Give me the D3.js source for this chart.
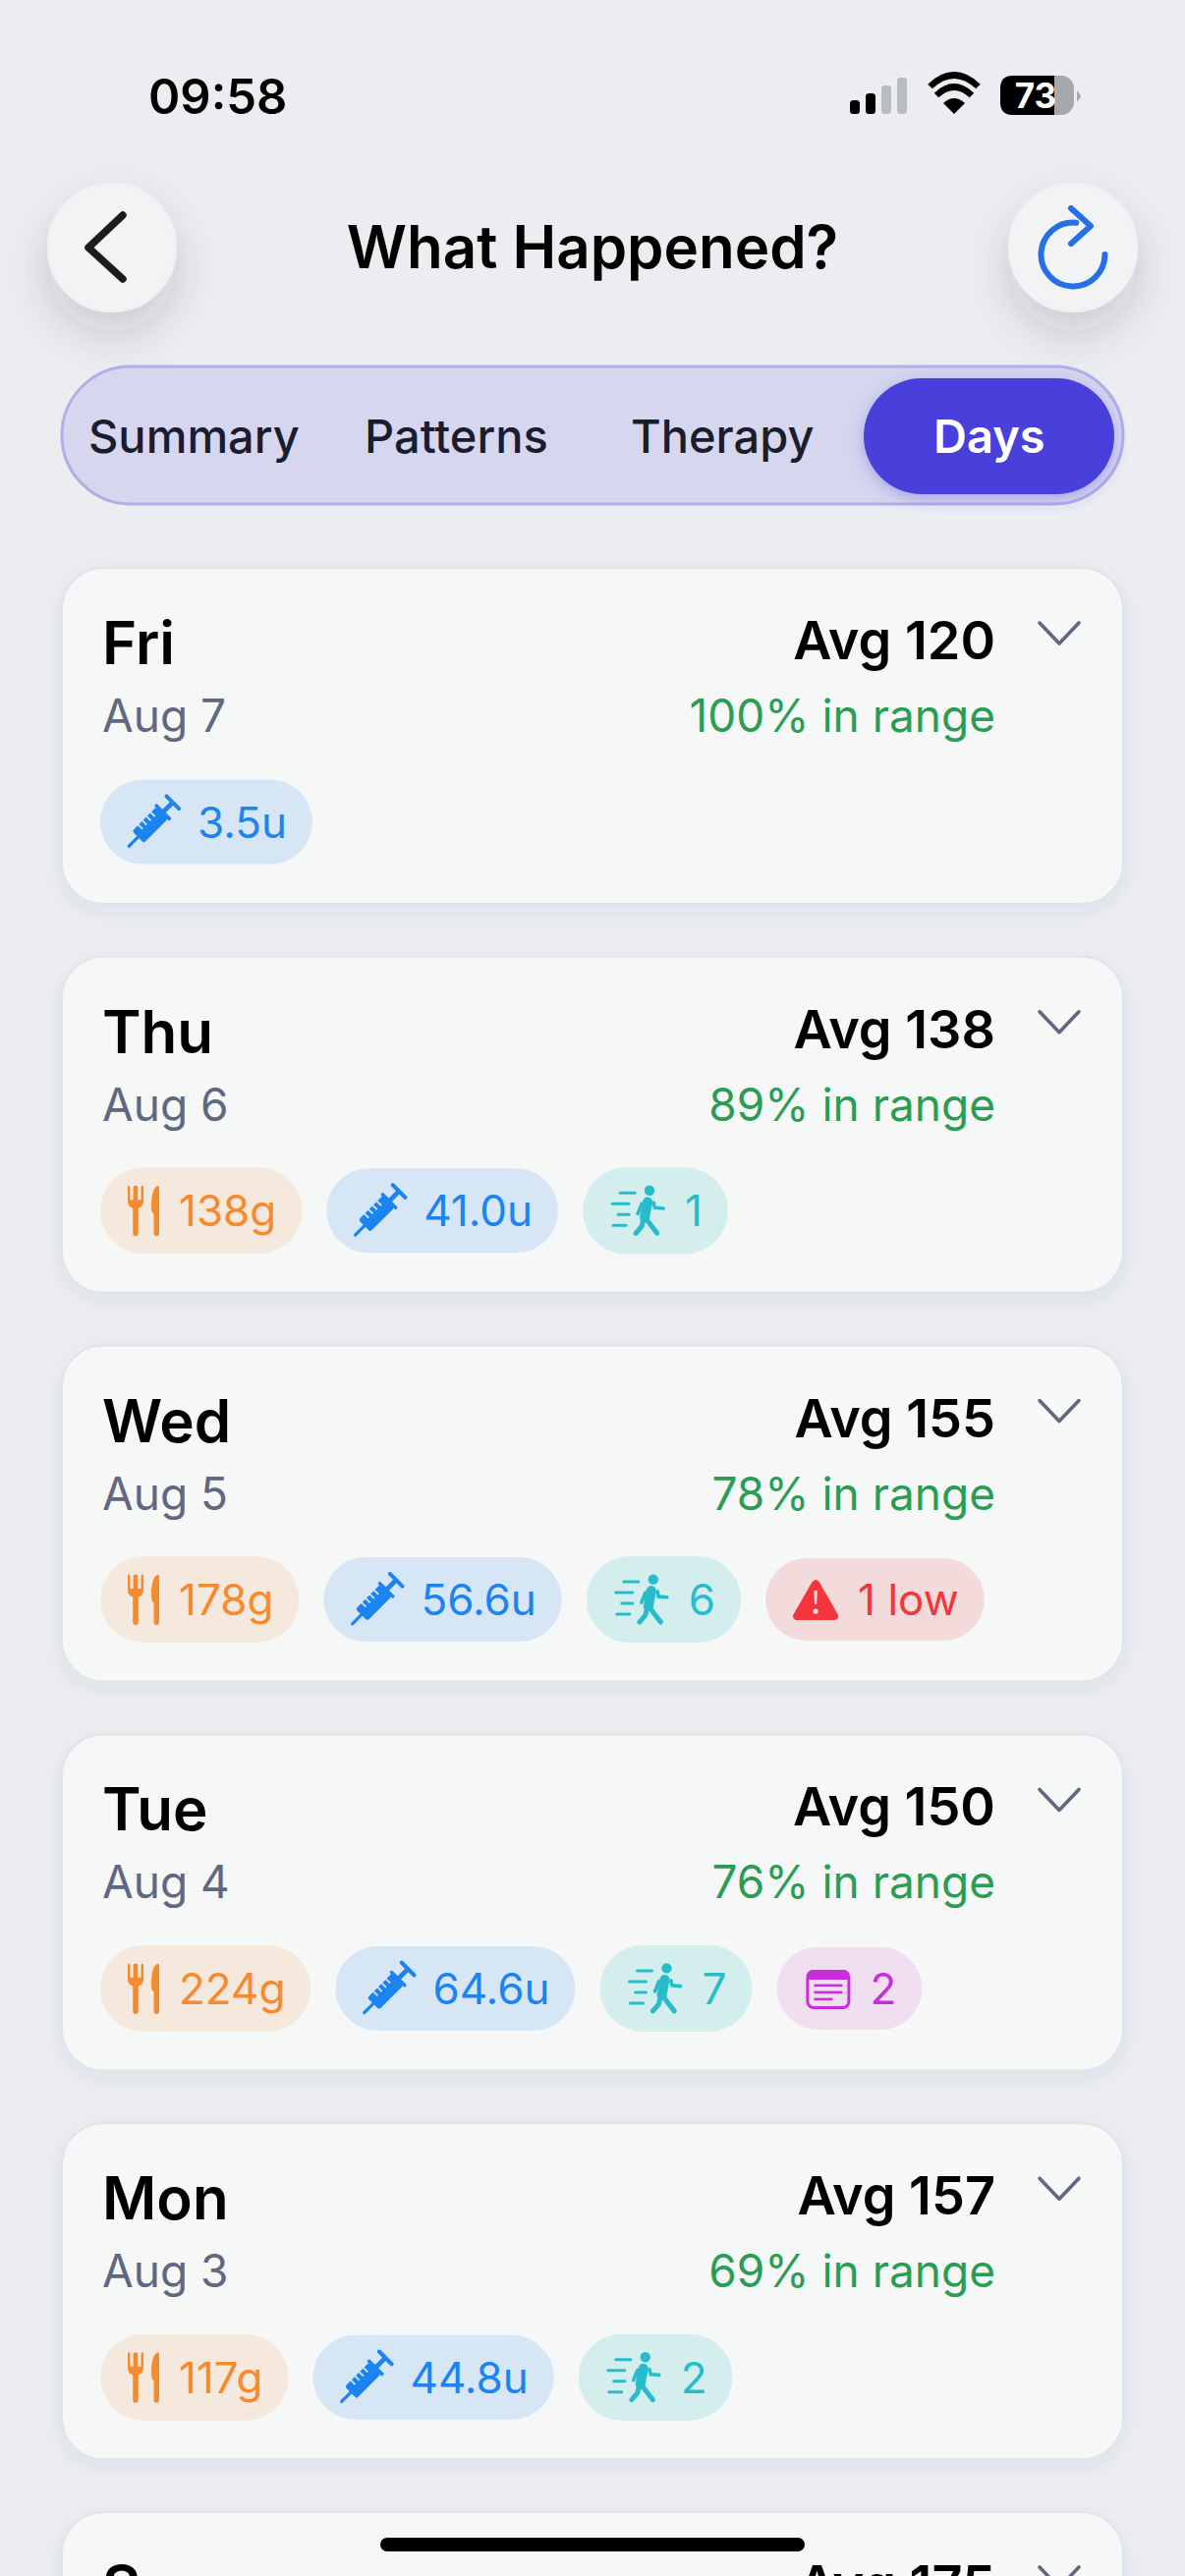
<!DOCTYPE html>
<html><head><meta charset="utf-8">
<script src="https://cdn.jsdelivr.net/npm/d3@7/dist/d3.min.js"></script>
<style>html,body{margin:0;padding:0;background:#ebedf1;overflow:hidden}svg{display:block}text{font-family:Inter,"Noto Sans",sans-serif}</style>
</head><body><svg id="c" width="1206" height="2622" viewBox="0 0 1206 2622"></svg>
<script>
const days=["Fri","Thu","Wed","Tue","Mon","Sun"];
const dates=["Aug 7","Aug 6","Aug 5","Aug 4","Aug 3",""];
const avgs=[120,138,155,150,157,175];
const inRange=[100,89,78,76,69,null];
const carbs=[null,138,178,224,117,null];
const insulin=[3.5,41.0,56.6,64.6,44.8,null];
const activity=[null,1,6,7,2,null];
const lows=[null,null,1,null,null,null];
const notes=[null,null,null,2,null,null];
const tabs=["Summary","Patterns","Therapy","Days"];
const tabStarts=[90,371,642,950];

const svg=d3.select("#c");
const F={bg:"#ebedf1",card:"#f6f7f7",cardStroke:"#e1e3eb",ink:"#000",muted:"#5f6880",green:"#2a9d55"};
const defs=svg.append("defs");
function shadow(id,dy,sd,col,op){const f=defs.append("filter").attr("id",id).attr("x","-60%").attr("y","-60%").attr("width","220%").attr("height","240%");
 f.append("feDropShadow").attr("dx",0).attr("dy",dy).attr("stdDeviation",sd).attr("flood-color",col).attr("flood-opacity",op);}
shadow("btn",22,22,"#20242c",0.17);
shadow("cardS",6,9,"#2a3560",0.07);
shadow("pill",4,8,"#4a41dc",0.35);

svg.append("rect").attr("width",1206).attr("height",2622).attr("fill",F.bg);

/* status bar */
const st=svg.append("g");
st.append("text").text("09:58").attr("x",151).attr("y",116).attr("font-size",49).attr("font-weight",600).attr("fill","#000");
[[865,102,"#000"],[881,95,"#000"],[897,87,"#b9bcc0"],[913,79,"#b9bcc0"]].forEach(b=>st.append("rect").attr("x",b[0]).attr("y",b[1]).attr("width",10).attr("height",116-b[1]).attr("rx",3.5).attr("fill",b[2]));
st.append("path").attr("d","M971 116 L960 105 Q971 95 982 105 Z").attr("fill","#000");
st.append("path").attr("d","M953 97 Q971 80 989 97").attr("fill","none").attr("stroke","#000").attr("stroke-width",6.5);
st.append("path").attr("d","M946.5 88 Q971 65 995.5 88").attr("fill","none").attr("stroke","#000").attr("stroke-width",6.5);
st.append("rect").attr("x",1018).attr("y",77).attr("width",75).attr("height",40).attr("rx",13).attr("fill","#a6a8aa");
st.append("path").attr("d","M1031 77 H1073 V117 H1031 Q1018 117 1018 104 V90 Q1018 77 1031 77 Z").attr("fill","#000");
st.append("path").attr("d","M1096 92 Q1100 97 1100 98 Q1100 99 1096 104 Z").attr("fill","#a6a8aa");
st.append("text").text("73").attr("x",1054).attr("y",110).attr("text-anchor","middle").attr("font-size",35).attr("font-weight",700).attr("fill","#fff");

/* header */
[[114],[1092]].forEach(d=>svg.append("circle").attr("cx",d[0]).attr("cy",252).attr("r",65).attr("fill","#f2f3f5").attr("stroke","#f0f1f2").attr("stroke-width",2).attr("filter","url(#btn)"));
svg.append("path").attr("d","M125 219 L90 252 L125 284").attr("fill","none").attr("stroke","#1c1c1e").attr("stroke-width",7.5).attr("stroke-linecap","round").attr("stroke-linejoin","round");
const ref=svg.append("g").attr("fill","none").attr("stroke","#2570e6").attr("stroke-width",6).attr("stroke-linecap","round").attr("stroke-linejoin","round");
ref.append("path").attr("d",d3.arc()({innerRadius:32.5,outerRadius:32.5,startAngle:Math.PI/2,endAngle:2*Math.PI+0.1})).attr("transform","translate(1092,259)");
ref.append("path").attr("d","M1090 212 L1110 230 L1090 248");
svg.append("text").text("What Happened?").attr("x",603).attr("y",273).attr("text-anchor","middle").attr("font-size",60).attr("font-weight",600).attr("fill","#000");

/* segmented control */
svg.append("rect").attr("x",63).attr("y",373).attr("width",1080).attr("height",140).attr("rx",70).attr("fill","#d6d7ee").attr("stroke","#b0aee8").attr("stroke-width",3);
svg.append("rect").attr("x",879).attr("y",385).attr("width",255).attr("height",118).attr("rx",59).attr("fill","#4a41dc").attr("filter","url(#pill)");
svg.selectAll("text.tab").data(tabs).join("text").attr("class","tab").text(d=>d)
 .attr("x",(d,i)=>tabStarts[i]).attr("y",461).attr("font-size",47).attr("font-weight",(d,i)=>i==3?600:500).attr("fill",(d,i)=>i==3?"#fff":"#1a1d2e");

/* icons: drawn around local origin (left edge, vertical centre) */
const icons={
 food:(g,c)=>{g.append("path").attr("fill",c).attr("d","M0 -24 Q0 -25.5 1.2 -25.5 Q2.4 -25.5 2.4 -24 L2.5 -11 H5.6 L5.7 -24 Q5.7 -25.5 8 -25.5 Q10.3 -25.5 10.3 -24 L10.4 -11 H13.5 L13.6 -24 Q13.6 -25.5 14.8 -25.5 Q16 -25.5 16 -24 L16 -10 Q16 -4 10.8 -2.5 L10.8 22.5 Q10.8 26 8 26 Q5.2 26 5.2 22.5 L5.2 -2.5 Q0 -4 0 -10 Z");
  g.append("path").attr("fill",c).attr("d","M32 -23 Q32 -26 29.5 -25 Q24 -21 24 -5 Q24 3 26.5 3 L26.5 23 Q26.5 26 29.2 26 Q32 26 32 23 Z");},
 ins:(g,c,bg)=>{const s=g.append("g").attr("transform","translate(25,0) rotate(-45)");
  s.append("line").attr("x1",-35).attr("x2",-20).attr("stroke",c).attr("stroke-width",3.2).attr("stroke-linecap","round");
  s.append("rect").attr("x",-22).attr("y",-8.5).attr("width",35).attr("height",17).attr("rx",2.5).attr("fill",c);
  s.append("rect").attr("x",12).attr("y",-11).attr("width",3.6).attr("height",22).attr("rx",1.6).attr("fill",c);
  s.append("rect").attr("x",14).attr("y",-2.4).attr("width",14).attr("height",4.8).attr("fill",c);
  s.append("rect").attr("x",26).attr("y",-11).attr("width",4).attr("height",22).attr("rx",2).attr("fill",c);
  [-13,-7,-1,5].forEach(x=>s.append("line").attr("x1",x).attr("x2",x).attr("y1",-8.8).attr("y2",-2.5).attr("stroke",bg).attr("stroke-width",1.8));},
 act:(g,c)=>{[[8,23,-18],[0,17,-7],[6,17,4],[1,14,15]].forEach(l=>g.append("line").attr("x1",l[0]).attr("x2",l[1]).attr("y1",l[2]).attr("y2",l[2]).attr("stroke",c).attr("stroke-width",3).attr("stroke-linecap","round"));
  g.append("circle").attr("cx",38).attr("cy",-20.5).attr("r",5.2).attr("fill",c);
  const P=(d,w)=>g.append("path").attr("d",d).attr("fill","none").attr("stroke",c).attr("stroke-width",w).attr("stroke-linecap","round").attr("stroke-linejoin","round");
  P("M36 -9 L33 7",10);P("M26 3 L30 -7",3.6);P("M42.3 -8 L43.3 -3 L52 -2.3",3.6);P("M31.7 9 L30 16 L24 23",5);P("M34.3 8 L39 14.3 L45.7 23",5);},
 warn:(g,c,bg)=>{g.append("path").attr("d","M23 -16 L4 17 L42 17 Z").attr("fill",c).attr("stroke",c).attr("stroke-width",8).attr("stroke-linejoin","round");
  g.append("path").attr("d","M21.2 -9 H24.8 L24 5 H22 Z").attr("fill",bg);g.append("circle").attr("cx",23).attr("cy",12).attr("r",2.6).attr("fill",bg);},
 note:(g,c)=>{g.append("rect").attr("x",1.5).attr("y",-17.5).attr("width",42).attr("height",37).attr("rx",6).attr("fill","none").attr("stroke",c).attr("stroke-width",3);
  g.append("path").attr("d","M1.5 -9 V-13 Q1.5 -19 7.5 -19 H37.5 Q43.5 -19 43.5 -13 V-9 Z").attr("fill",c);
  [[8,37,-3],[8,37,4],[8,27,11]].forEach(l=>g.append("line").attr("x1",l[0]).attr("x2",l[1]).attr("y1",l[2]).attr("y2",l[2]).attr("stroke",c).attr("stroke-width",2.6));}
};
const kinds={
 food:{c:"#f68a2e",bg:"#f5e9de",w:32,h:88,pad:28,fmt:v=>v+"g"},
 ins:{c:"#1c84f0",bg:"#d6e6f5",w:50,h:86,pad:29,fmt:v=>v.toFixed(1)+"u"},
 act:{c:"#26bccb",bg:"#d4eeee",w:54,h:88,pad:30,fmt:v=>""+v},
 warn:{c:"#f3363d",bg:"#f3dadb",w:46,h:84,pad:28,fmt:v=>v+" low"},
 note:{c:"#c92edc",bg:"#efdff1",w:45,h:84,pad:30,fmt:v=>""+v}
};

/* cards */
const y=d3.scalePoint().domain(days).range([578,2557]);
const cards=svg.selectAll("g.card").data(days).join("g").attr("class","card").attr("transform",d=>`translate(63,${y(d)})`);
cards.each(function(d,i){
 const g=d3.select(this);
 g.append("rect").attr("width",1080).attr("height",342).attr("rx",42).attr("fill",F.card).attr("stroke",F.cardStroke).attr("stroke-width",2).attr("filter","url(#cardS)");
 g.append("text").text(d).attr("x",41).attr("y",98).attr("font-size",60).attr("font-weight",600).attr("fill",F.ink);
 if(dates[i]) g.append("text").text(dates[i]).attr("x",41).attr("y",167).attr("font-size",46).attr("fill",F.muted);
 g.append("text").text("Avg "+avgs[i]).attr("x",950).attr("y",93).attr("text-anchor","end").attr("font-size",54).attr("font-weight",600).attr("fill",F.ink);
 if(inRange[i]!=null) g.append("text").text(inRange[i]+"% in range").attr("x",950).attr("y",167).attr("text-anchor","end").attr("font-size",46).attr("fill",F.green);
 g.append("path").attr("d","M995 56 L1015 77 L1035 56").attr("fill","none").attr("stroke",F.muted).attr("stroke-width",3.6).attr("stroke-linecap","round").attr("stroke-linejoin","round");
 let x=39;
 [["food",carbs[i]],["ins",insulin[i]],["act",activity[i]],["warn",lows[i]],["note",notes[i]]].forEach(([k,v])=>{
  if(v==null) return;
  const K=kinds[k], chip=g.append("g").attr("transform",`translate(${x},258.5)`);
  const bg=chip.append("rect").attr("y",-K.h/2).attr("height",K.h).attr("rx",K.h/2).attr("fill",K.bg);
  icons[k](chip.append("g").attr("transform",`translate(${K.pad},0)`),K.c,K.bg);
  const tx=K.pad+K.w+20;
  const t=chip.append("text").text(K.fmt(v)).attr("x",tx).attr("y",16).attr("font-size",44).attr("fill",K.c);
  const w=tx+t.node().getComputedTextLength()+26;
  bg.attr("width",w);
  x+=w+25;
 });
});

/* home indicator */
svg.append("rect").attr("x",387).attr("y",2583).attr("width",432).attr("height",14).attr("rx",7).attr("fill","#000");
</script></body></html>
